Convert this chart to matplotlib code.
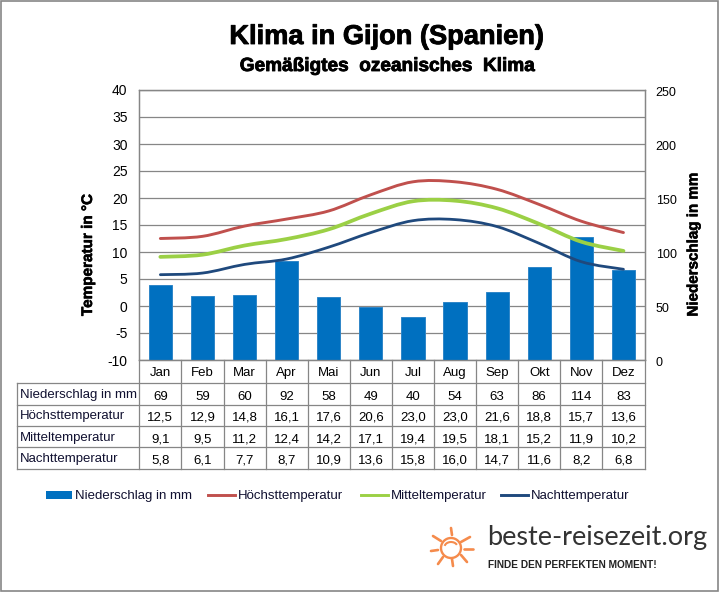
import matplotlib
matplotlib.use('Agg')
import matplotlib.pyplot as plt
import matplotlib.patheffects as pe
from matplotlib.path import Path
from matplotlib.patches import PathPatch, Rectangle, Arc
from matplotlib.lines import Line2D
from matplotlib.ticker import FuncFormatter
from matplotlib.transforms import ScaledTranslation

plt.rcParams['font.family'] = ['Liberation Sans', 'DejaVu Sans']

months = ['Jan', 'Feb', 'Mar', 'Apr', 'Mai', 'Jun', 'Jul', 'Aug', 'Sep', 'Okt', 'Nov', 'Dez']
rain = [69, 59, 60, 92, 58, 49, 40, 54, 63, 86, 114, 83]
high = [12.5, 12.9, 14.8, 16.1, 17.6, 20.6, 23.0, 23.0, 21.6, 18.8, 15.7, 13.6]
mean = [9.1, 9.5, 11.2, 12.4, 14.2, 17.1, 19.4, 19.5, 18.1, 15.2, 11.9, 10.2]
low = [5.8, 6.1, 7.7, 8.7, 10.9, 13.6, 15.8, 16.0, 14.7, 11.6, 8.2, 6.8]

rain_label = 'Niederschlag in mm'
high_label = 'Höchsttemperatur'
mean_label = 'Mitteltemperatur'
low_label = 'Nachttemperatur'

BLUE = '#0070C0'
RED = '#C0504D'
GREEN = '#9BD045'
NAVY = '#1F497D'
GRID = '#868686'
W, H = 720, 592


def fmt(v):
    return f'{v:.1f}'.replace('.', ',')


def smooth_line(ax, xs, ys, color, lw):
    # same kind of smoothing as the spreadsheet: bezier through the monthly values
    verts = [(xs[0], ys[0])]
    codes = [Path.MOVETO]
    n = len(xs)
    for i in range(n - 1):
        x0, y0 = xs[max(i - 1, 0)], ys[max(i - 1, 0)]
        x1, y1 = xs[i], ys[i]
        x2, y2 = xs[i + 1], ys[i + 1]
        x3, y3 = xs[min(i + 2, n - 1)], ys[min(i + 2, n - 1)]
        verts += [(x1 + (x2 - x0) / 6, y1 + (y2 - y0) / 6),
                  (x2 - (x3 - x1) / 6, y2 - (y3 - y1) / 6),
                  (x2, y2)]
        codes += [Path.CURVE4] * 3
    ax.add_patch(PathPatch(Path(verts, codes), fill=False, edgecolor=color, lw=lw, capstyle='round', zorder=5))


fig = plt.figure(figsize=(W / 100, H / 100), dpi=100, facecolor='white')

left, right, top, bottom = 139.3, 644.5, 90.0, 360.0
box = [left / W, 1 - bottom / H, (right - left) / W, (bottom - top) / H]

ax_rain = fig.add_axes(box)
ax_temp = fig.add_axes(box, sharex=ax_rain)
ax_temp.patch.set_visible(False)

x = list(range(12))
ax_rain.bar(x, rain, width=0.55, color=BLUE, edgecolor='#2F86C8', lw=0.7, zorder=3)
ax_rain.set_ylim(0, 250)
ax_rain.set_yticks(range(0, 251, 50))
ax_rain.yaxis.tick_right()
ax_rain.set_xlim(-0.5, 11.5)
ax_rain.set_xticks([])
ax_rain.tick_params(axis='y', length=0, pad=8, labelsize=9)
for lab in ax_rain.get_yticklabels():
    lab.set_transform(lab.get_transform() + ScaledTranslation(0, -1.2 / 72, fig.dpi_scale_trans))

ax_temp.set_ylim(-10, 40)
ax_temp.set_yticks(range(-10, 41, 5))
ax_temp.yaxis.set_major_formatter(FuncFormatter(lambda v, p: f'{v:.0f}'))
ax_temp.tick_params(axis='y', length=0, pad=8.5, labelsize=10)
ax_temp.tick_params(axis='x', length=0, labelbottom=False)

for a in (ax_rain, ax_temp):
    for s in a.spines.values():
        s.set_color(GRID)
        s.set_linewidth(0.9)

# grid has to sit under the bars, so it goes on the rain axes (1 deg = 5 mm)
for t in range(-10, 41, 5):
    ax_rain.axhline((t + 10) * 5, color=GRID, lw=0.9, zorder=1)

smooth_line(ax_temp, x, high, RED, 2.1)
smooth_line(ax_temp, x, mean, GREEN, 2.7)
smooth_line(ax_temp, x, low, NAVY, 2.0)

# overlay in pixel coordinates for table, legend, titles and logo
over = fig.add_axes([0, 0, 1, 1], facecolor='none')
over.set_xlim(0, W)
over.set_ylim(H, 0)
over.axis('off')
over.add_patch(Rectangle((1, 0.5), W - 3, H - 2, fill=False, edgecolor=GRID, lw=1.2))

heavy = [pe.withStroke(linewidth=0.6, foreground='black')]
over.text(387, 37, 'Klima in Gijon (Spanien)', ha='center', va='center', fontsize=19.6, fontweight='bold', path_effects=heavy)
over.text(387, 66.5, 'Gemäßigtes  ozeanisches  Klima', ha='center', va='center', fontsize=13.7, fontweight='bold', path_effects=heavy)
over.text(88, 255, 'Temperatur in °C', rotation=90, ha='center', va='center', fontsize=11, fontweight='bold',
          path_effects=[pe.withStroke(linewidth=0.4, foreground='black')])
over.text(693.5, 244.5, 'Niederschlag in mm', rotation=90, ha='center', va='center', fontsize=10.9, fontweight='bold',
          path_effects=[pe.withStroke(linewidth=0.4, foreground='black')])

col = (right - left) / 12
table_left = 17
row_y = [383, 405, 426, 447, 469]
row_labels = [rain_label, high_label, mean_label, low_label]
row_vals = [[str(v) for v in rain], [fmt(v) for v in high], [fmt(v) for v in mean], [fmt(v) for v in low]]

for y in row_y:
    over.add_line(Line2D([table_left, right], [y, y], color=GRID, lw=0.9))
over.add_line(Line2D([table_left, table_left], [row_y[0], row_y[-1]], color=GRID, lw=0.9))
for i in range(13):
    vx = left + i * col
    over.add_line(Line2D([vx, vx], [bottom, row_y[-1]], color=GRID, lw=0.9))

for i, m in enumerate(months):
    over.text(left + (i + 0.5) * col, 373, m, ha='center', va='center', fontsize=9.5)
for r, (lab, vals) in enumerate(zip(row_labels, row_vals)):
    yc = (row_y[r] + row_y[r + 1]) / 2
    over.text(19.5, yc + 1, lab, ha='left', va='center', fontsize=9.5, color='#101030')
    for i, v in enumerate(vals):
        over.text(left + (i + 0.5) * col, yc + 2.5, v, ha='center', va='center', fontsize=9.5)

# legend
leg_y = 495
over.add_patch(Rectangle((46, leg_y - 4), 26, 8, color=BLUE, lw=0))
over.text(75, leg_y + 1.5, rain_label, va='center', fontsize=9.5, color='#101030')
for x0, c, lab in [(208, RED, high_label), (361, GREEN, mean_label), (501, NAVY, low_label)]:
    over.add_line(Line2D([x0, x0 + 27], [leg_y, leg_y], color=c, lw=2.1))
    over.text(x0 + 30, leg_y + 1.5, lab, va='center', fontsize=9.5, color='#101030')

# logo
SUN = '#F58B4C'
rays = [(451, 528, 452, 535), (470, 537, 461, 542), (473, 549, 464, 549), (467, 562, 461, 555),
        (453, 566, 452, 559), (438, 564, 443, 557), (431, 551, 438, 550), (433, 536, 441, 541)]
for x0, y0, x1, y1 in rays:
    over.add_line(Line2D([x0, x1], [y0, y1], color=SUN, lw=1.9, solid_capstyle='round'))
over.add_patch(Arc((451, 548), 20, 20, theta1=0, theta2=360, edgecolor=SUN, lw=1.7))
over.add_patch(Arc((451, 547), 13, 10, theta1=190, theta2=340, edgecolor=SUN, lw=1.5))
over.text(487, 537, 'beste-reisezeit.org', family=['Lato', 'DejaVu Sans'], ha='left', va='center', fontsize=19.5, color='#333333')
over.text(488, 564.5, 'FINDE DEN PERFEKTEN MOMENT!', ha='left', va='center', fontsize=7.25, fontweight='bold', color='#222222')

fig.savefig('out.png', dpi=100)
